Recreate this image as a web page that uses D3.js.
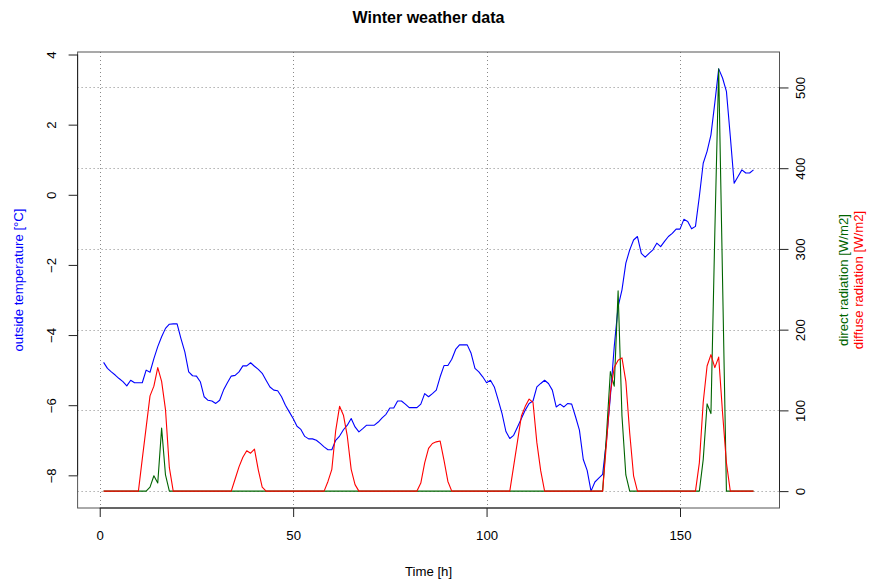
<!DOCTYPE html>
<html>
<head>
<meta charset="utf-8">
<script src="https://cdn.jsdelivr.net/npm/d3@7"></script>
<style>
    body { margin: 0; background: #fff; }
    svg { display: block; font-family: "Liberation Sans", Arial, Helvetica, sans-serif; }
</style>
</head>
<body>
<svg id="weather-chart"></svg>
<script>
// 1. DATOS (una fila = 24 horas)
// ============================
const temperature = [
    -4.78, -4.95, -5.05, -5.14, -5.24, -5.33, -5.45, -5.29, -5.36, -5.36, -5.36, -5.0, -5.06, -4.67, -4.33, -4.05, -3.81, -3.69, -3.68, -3.68, -4.1, -4.48, -5.05, -5.16,
    -5.17, -5.33, -5.76, -5.86, -5.88, -5.95, -5.86, -5.57, -5.36, -5.17, -5.15, -5.05, -4.88, -4.88, -4.79, -4.89, -4.98, -5.09, -5.29, -5.48, -5.57, -5.59, -5.76, -6.0,
    -6.19, -6.38, -6.6, -6.69, -6.89, -6.96, -6.96, -7.0, -7.09, -7.19, -7.27, -7.27, -7.0, -6.88, -6.7, -6.57, -6.38, -6.62, -6.76, -6.67, -6.57, -6.57, -6.57, -6.48,
    -6.36, -6.26, -6.08, -6.08, -5.88, -5.88, -5.97, -6.07, -6.07, -6.07, -5.97, -5.67, -5.76, -5.67, -5.57, -5.19, -4.87, -4.87, -4.69, -4.41, -4.28, -4.28, -4.28, -4.52,
    -4.95, -5.05, -5.19, -5.36, -5.29, -5.48, -5.85, -6.24, -6.75, -6.95, -6.86, -6.62, -6.38, -6.14, -5.95, -5.88, -5.48, -5.38, -5.29, -5.38, -5.57, -6.05, -5.97, -6.05,
    -5.95, -5.97, -6.33, -6.71, -7.55, -7.86, -8.45, -8.19, -8.08, -7.97, -7.0, -5.76, -4.33, -3.19, -2.71, -1.95, -1.57, -1.29, -1.19, -1.67, -1.78, -1.67, -1.57, -1.38,
    -1.48, -1.33, -1.19, -1.1, -0.98, -0.98, -0.7, -0.76, -0.97, -0.9, -0.05, 0.9, 1.24, 1.71, 2.62, 3.59, 3.33, 2.95, 1.67, 0.33, 0.52, 0.71, 0.62, 0.62,
    0.71
];

const directRadiation = [
    0, 0, 0, 0, 0, 0, 0, 0, 0, 0, 0, 0, 5, 19, 10, 78, 20, 0, 0, 0, 0, 0, 0, 0,
    0, 0, 0, 0, 0, 0, 0, 0, 0, 0, 0, 0, 0, 0, 0, 0, 0, 0, 0, 0, 0, 0, 0, 0,
    0, 0, 0, 0, 0, 0, 0, 0, 0, 0, 0, 0, 0, 0, 0, 0, 0, 0, 0, 0, 0, 0, 0, 0,
    0, 0, 0, 0, 0, 0, 0, 0, 0, 0, 0, 0, 0, 0, 0, 0, 0, 0, 0, 0, 0, 0, 0, 0,
    0, 0, 0, 0, 0, 0, 0, 0, 0, 0, 0, 0, 0, 0, 0, 0, 0, 0, 0, 0, 0, 0, 0, 0,
    0, 0, 0, 0, 0, 0, 0, 0, 0, 0, 70, 148, 130, 248, 93, 20, 0, 0, 0, 0, 0, 0, 0, 0,
    0, 0, 0, 0, 0, 0, 0, 0, 0, 0, 0, 39, 108, 96, 320, 523, 261, 0, 0, 0, 0, 0, 0, 0,
    0
];

const diffuseRadiation = [
    0, 0, 0, 0, 0, 0, 0, 0, 0, 0, 40, 79, 118, 130, 153, 136, 101, 29, 0, 0, 0, 0, 0, 0,
    0, 0, 0, 0, 0, 0, 0, 0, 0, 0, 15, 30, 42, 50, 47, 52, 26, 5, 0, 0, 0, 0, 0, 0,
    0, 0, 0, 0, 0, 0, 0, 0, 0, 0, 12, 27, 75, 105, 94, 68, 27, 8, 0, 0, 0, 0, 0, 0,
    0, 0, 0, 0, 0, 0, 0, 0, 0, 0, 10, 35, 53, 59, 61, 62, 38, 12, 0, 0, 0, 0, 0, 0,
    0, 0, 0, 0, 0, 0, 0, 0, 0, 0, 31, 62, 93, 105, 114, 110, 60, 25, 0, 0, 0, 0, 0, 0,
    0, 0, 0, 0, 0, 0, 0, 0, 0, 0, 60, 122, 153, 162, 165, 136, 72, 19, 0, 0, 0, 0, 0, 0,
    0, 0, 0, 0, 0, 0, 0, 0, 0, 0, 35, 110, 155, 169, 153, 166, 97, 35, 0, 0, 0, 0, 0, 0,
    0
];

const timeTicks = [0, 50, 100, 150];
const temperatureTicks = [-8, -6, -4, -2, 0, 2, 4];
const radiationTicks = [0, 100, 200, 300, 400, 500];


// 2. CONFIGURACIÓN Y ESCALAS
// ============================
const width = 870;
const height = 582;
const margin = { top: 52, right: 90.5, bottom: 74, left: 77.6 };
const fontSize = 13.2;

const hours = temperature.map((_, i) => i + 1);

// Igual que R: el rango de los datos se amplía un 4 %
function padded([lo, hi]) {
    const p = (hi - lo) * 0.04;
    return [lo - p, hi + p];
}

const x = d3.scaleLinear()
    .domain(padded(d3.extent(hours)))
    .range([margin.left, width - margin.right]);

const yTemp = d3.scaleLinear()
    .domain(padded(d3.extent(temperature)))
    .range([height - margin.bottom, margin.top]);

const yRad = d3.scaleLinear()
    .domain(padded(d3.extent(directRadiation.concat(diffuseRadiation))))
    .range([height - margin.bottom, margin.top]);

const plotLeft = margin.left, plotRight = width - margin.right;
const plotTop = margin.top, plotBottom = height - margin.bottom;

const svg = d3.select("#weather-chart")
    .attr("width", width)
    .attr("height", height);

svg.append("rect").attr("width", width).attr("height", height).attr("fill", "#fff");


// 3. REJILLA
// ============================
const grid = svg.append("g")
    .attr("stroke", "#888")
    .attr("stroke-dasharray", "1,3")
    .attr("stroke-width", 1);

grid.selectAll(".vgrid")
    .data(timeTicks)
    .join("line")
    .attr("x1", d => Math.round(x(d)) + 0.5).attr("x2", d => Math.round(x(d)) + 0.5)
    .attr("y1", plotTop).attr("y2", plotBottom);

grid.selectAll(".hgrid")
    .data(radiationTicks)
    .join("line")
    .attr("x1", plotLeft).attr("x2", plotRight)
    .attr("y1", d => Math.round(yRad(d)) + 0.5).attr("y2", d => Math.round(yRad(d)) + 0.5);


// 4. LÍNEAS
// ============================
function drawSeries(values, yScale, color) {
    const line = d3.line()
        .x((d, i) => x(hours[i]))
        .y(d => yScale(d));
    svg.append("path")
        .datum(values)
        .attr("fill", "none")
        .attr("stroke", color)
        .attr("stroke-width", 1.1)
        .attr("stroke-linejoin", "round")
        .attr("d", line);
}

drawSeries(temperature, yTemp, "#0000ff");
drawSeries(directRadiation, yRad, "#006400");
drawSeries(diffuseRadiation, yRad, "#ff0000");


// 5. MARCO Y EJES
// ============================
svg.append("rect")
    .attr("x", plotLeft).attr("y", plotTop)
    .attr("width", plotRight - plotLeft).attr("height", plotBottom - plotTop)
    .attr("fill", "none")
    .attr("stroke", "#555");

function styleAxis(g, ticks, scale, orient) {
    g.select(".domain").remove();
    g.selectAll(".tick line").attr("stroke", "#222");
    g.selectAll(".tick text").attr("fill", "#000").style("font-size", fontSize + "px");
    const a = scale(ticks[0]), b = scale(ticks[ticks.length - 1]);
    if (orient === "bottom") {
        g.append("line").attr("x1", a).attr("x2", b).attr("stroke", "#222");
    } else {
        g.append("line").attr("y1", a).attr("y2", b).attr("stroke", "#222");
    }
}

// Eje X
svg.append("g")
    .attr("transform", `translate(0,${plotBottom})`)
    .call(d3.axisBottom(x).tickValues(timeTicks).tickSize(9).tickSizeOuter(0).tickPadding(0))
    .call(g => styleAxis(g, timeTicks, x, "bottom"))
    .call(g => g.selectAll(".tick text").attr("y", 27).attr("dy", "0.35em"));

// Eje izquierdo (temperatura)
svg.append("g")
    .attr("transform", `translate(${plotLeft},0)`)
    .call(d3.axisLeft(yTemp).tickValues(temperatureTicks).tickSize(9).tickSizeOuter(0)
        .tickFormat(d3.format("d")))
    .call(g => styleAxis(g, temperatureTicks, yTemp, "left"))
    .call(g => g.selectAll(".tick text")
        .attr("x", null).attr("dy", "0.35em")
        .attr("text-anchor", "middle")
        .attr("transform", "translate(-26,0) rotate(-90)"));

// Eje derecho (radiación)
svg.append("g")
    .attr("transform", `translate(${plotRight},0)`)
    .call(d3.axisRight(yRad).tickValues(radiationTicks).tickSize(9).tickSizeOuter(0))
    .call(g => styleAxis(g, radiationTicks, yRad, "right"))
    .call(g => g.selectAll(".tick text")
        .attr("x", null).attr("dy", "0.35em")
        .attr("text-anchor", "middle")
        .attr("transform", "translate(21,0) rotate(-90)"));


// 6. TÍTULOS
// ============================
const midX = (plotLeft + plotRight) / 2;
const midY = (plotTop + plotBottom) / 2;

svg.append("text")
    .attr("x", midX).attr("y", 23)
    .attr("text-anchor", "middle")
    .style("font-size", "16px").style("font-weight", "bold")
    .text("Winter weather data");

svg.append("text")
    .attr("x", midX).attr("y", 571).attr("dy", "0.35em")
    .attr("text-anchor", "middle")
    .style("font-size", fontSize + "px")
    .text("Time [h]");

function sideLabel(cx, color, label) {
    svg.append("text")
        .attr("transform", `translate(${cx},${midY}) rotate(-90)`)
        .attr("dy", "0.35em")
        .attr("text-anchor", "middle")
        .attr("fill", color)
        .style("font-size", fontSize + "px")
        .text(label);
}

sideLabel(18, "#0000ff", "outside temperature [°C]");
sideLabel(843, "#006400", "direct radiation [W/m2]");
sideLabel(858, "#ff0000", "diffuse radiation [W/m2]");
</script>
</body>
</html>
